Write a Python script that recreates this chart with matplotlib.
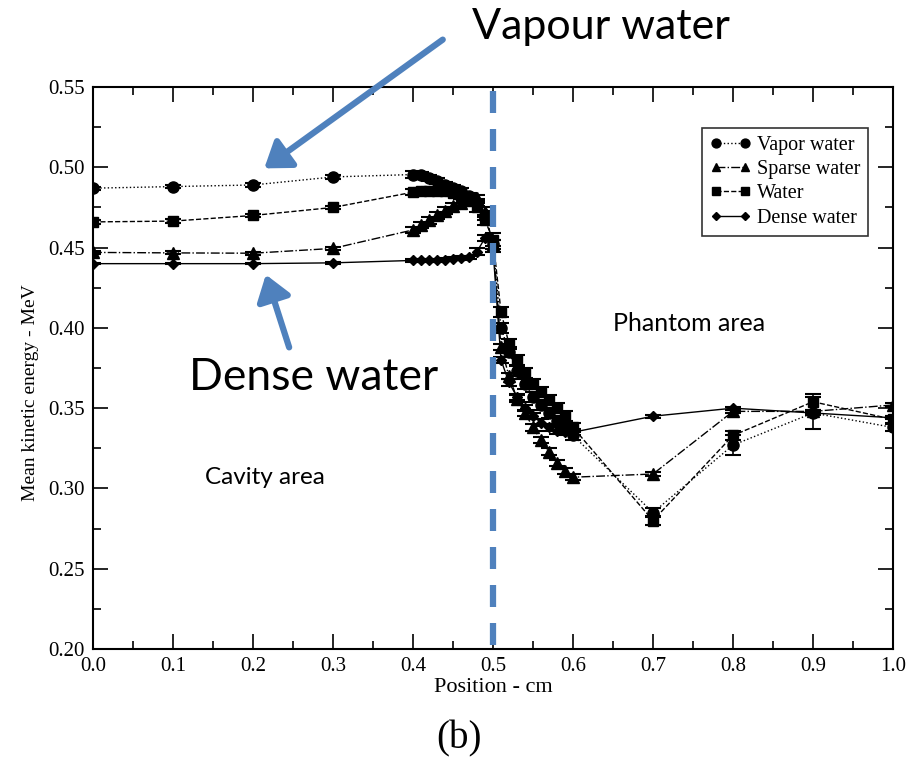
import matplotlib
matplotlib.use("Agg")
import matplotlib.pyplot as plt
from matplotlib.ticker import MultipleLocator, FormatStrFormatter
from matplotlib.patches import FancyArrowPatch

# Sampling positions (cm): cavity, fine grid around the interface, phantom
position = [0.0, 0.1, 0.2, 0.3,
            0.40, 0.41, 0.42, 0.43, 0.44, 0.45, 0.46, 0.47, 0.48, 0.49, 0.50,
            0.51, 0.52, 0.53, 0.54, 0.55, 0.56, 0.57, 0.58, 0.59, 0.60,
            0.7, 0.8, 0.9, 1.0]

vapor_water = [0.487, 0.488, 0.489, 0.494,
               0.4955, 0.495, 0.4935, 0.4915, 0.489, 0.487, 0.485, 0.482, 0.478, 0.470, 0.452,
               0.400, 0.385, 0.373, 0.365, 0.357, 0.352, 0.347, 0.342, 0.338, 0.333,
               0.285, 0.327, 0.347, 0.338]
sparse_water = [0.447, 0.4467, 0.4465, 0.4495,
                0.461, 0.464, 0.467, 0.470, 0.473, 0.476, 0.478, 0.480, 0.481, 0.472, 0.452,
                0.388, 0.370, 0.356, 0.347, 0.338, 0.330, 0.323, 0.316, 0.311, 0.307,
                0.309, 0.348, 0.348, 0.352]
water = [0.466, 0.4665, 0.470, 0.475,
         0.4845, 0.485, 0.4855, 0.4855, 0.485, 0.484, 0.482, 0.479, 0.475, 0.467, 0.455,
         0.410, 0.390, 0.380, 0.372, 0.365, 0.360, 0.355, 0.350, 0.345, 0.338,
         0.280, 0.333, 0.354, 0.343]
dense_water = [0.440, 0.440, 0.440, 0.4405,
               0.442, 0.442, 0.442, 0.4422, 0.4425, 0.443, 0.4435, 0.444, 0.4475, 0.456, 0.449,
               0.380, 0.366, 0.357, 0.350, 0.345, 0.341, 0.338, 0.336, 0.335, 0.335,
               0.345, 0.350, 0.347, 0.344]

vapor_err = [0.001, 0.001, 0.001, 0.001,
             0.002, 0.002, 0.002, 0.002, 0.002, 0.002, 0.002, 0.002, 0.002, 0.003, 0.003,
             0.003, 0.003, 0.003, 0.003, 0.003, 0.003, 0.003, 0.003, 0.003, 0.003,
             0.003, 0.006, 0.010, 0.002]
sparse_err = [0.001, 0.001, 0.001, 0.001,
              0.002, 0.002, 0.002, 0.002, 0.002, 0.002, 0.002, 0.002, 0.002, 0.003, 0.003,
              0.002, 0.002, 0.002, 0.002, 0.002, 0.002, 0.002, 0.002, 0.002, 0.002,
              0.001, 0.001, 0.001, 0.001]
water_err = [0.001, 0.001, 0.001, 0.001,
             0.002, 0.002, 0.002, 0.002, 0.002, 0.002, 0.002, 0.002, 0.003, 0.003, 0.004,
             0.003, 0.003, 0.003, 0.003, 0.003, 0.003, 0.003, 0.003, 0.003, 0.003,
             0.003, 0.003, 0.005, 0.002]
dense_err = [0.0005, 0.0005, 0.0005, 0.0005,
             0.001, 0.001, 0.001, 0.001, 0.001, 0.001, 0.001, 0.001, 0.002, 0.002, 0.002,
             0.002, 0.002, 0.002, 0.002, 0.002, 0.002, 0.002, 0.002, 0.002, 0.002,
             0.001, 0.001, 0.001, 0.001]

series = [
    ("Vapor water", vapor_water, vapor_err, "o", ":", 8),
    ("Sparse water", sparse_water, sparse_err, "^", "-.", 8),
    ("Water", water, water_err, "s", "--", 7),
    ("Dense water", dense_water, dense_err, "D", "-", 5.5),
]

serif = ["Liberation Serif", "DejaVu Serif"]
sans = ["Lato", "Open Sans", "DejaVu Sans"]
blue = "#4F81BD"

fig = plt.figure(figsize=(9.19, 7.66), dpi=100)
ax = fig.add_axes([0.1012, 0.1527, 0.8705, 0.7337])

for label, vals, err, mk, ls, ms in series:
    ax.errorbar(position, vals, yerr=err, color="black", marker=mk,
                linestyle=ls, linewidth=1.0, markersize=ms, capsize=6,
                elinewidth=1.2, capthick=1.5, label=label)

# Interface between cavity and phantom, dashes laid out from the top down
ax.plot([0.5, 0.5], [1.0, 0.0], transform=ax.get_xaxis_transform(),
        color=blue, linewidth=4.5, linestyle=(5.44, (3.52, 2.56)),
        solid_capstyle="butt", dash_capstyle="butt", zorder=5)

ax.set_xlim(0.0, 1.0)
ax.set_ylim(0.20, 0.55)
ax.xaxis.set_major_locator(MultipleLocator(0.1))
ax.xaxis.set_minor_locator(MultipleLocator(0.05))
ax.yaxis.set_major_locator(MultipleLocator(0.05))
ax.yaxis.set_minor_locator(MultipleLocator(0.025))
ax.tick_params(which="both", direction="in", top=True, right=True, width=1.2)
ax.tick_params(which="major", length=11, labelsize=15, pad=6)
ax.tick_params(which="minor", length=6)
ax.xaxis.set_major_formatter(FormatStrFormatter("%.1f"))
ax.yaxis.set_major_formatter(FormatStrFormatter("%.2f"))
for lab in ax.get_xticklabels() + ax.get_yticklabels():
    lab.set_family(serif)
for sp in ax.spines.values():
    sp.set_linewidth(1.5)

ax.set_xlabel("Position - cm", family=serif, fontsize=16, labelpad=1)
ax.set_ylabel("Mean kinetic energy - MeV", family=serif, fontsize=14)
ax.yaxis.set_label_coords(-0.068, 0.457)

handles, labels = ax.get_legend_handles_labels()
handles = [h[0] for h in handles]
leg = ax.legend(handles, labels, loc="upper right", bbox_to_anchor=(0.969, 0.927),
                numpoints=2, markerscale=0.8,
                prop={"family": serif, "size": 14.5}, frameon=True, fancybox=False,
                handlelength=2.0, handletextpad=0.3, labelspacing=0.25,
                borderpad=0.4, borderaxespad=0.0)
leg.get_frame().set_edgecolor("black")
leg.get_frame().set_linewidth(1.2)

# Region labels
ax.text(0.14, 0.307, "Cavity area", family=sans, fontsize=17.5, ha="left", va="center")
ax.text(0.65, 0.403, "Phantom area", family=sans, fontsize=18, ha="left", va="center")

# Callouts
fig.text(0.654, 0.965, "Vapour water", family=sans, fontsize=31, ha="center", va="center")
fig.text(0.341, 0.507, "Dense water", family=sans, fontsize=32, ha="center", va="center")
fig.add_artist(FancyArrowPatch(
    (445 / 919, 1 - 38 / 766), (262 / 919, 1 - 170 / 766),
    transform=fig.transFigure, arrowstyle="-|>,head_length=10,head_width=7",
    color=blue, linewidth=4.5, mutation_scale=1.5))
fig.add_artist(FancyArrowPatch(
    (290 / 919, 1 - 350 / 766), (265 / 919, 1 - 272 / 766),
    transform=fig.transFigure, arrowstyle="-|>,head_length=10,head_width=7",
    color=blue, linewidth=4.5, mutation_scale=1.5))

fig.text(0.5, 0.035, "(b)", family=serif, fontsize=28, ha="center", va="center")

fig.savefig("out.png", dpi=100, facecolor="white")
